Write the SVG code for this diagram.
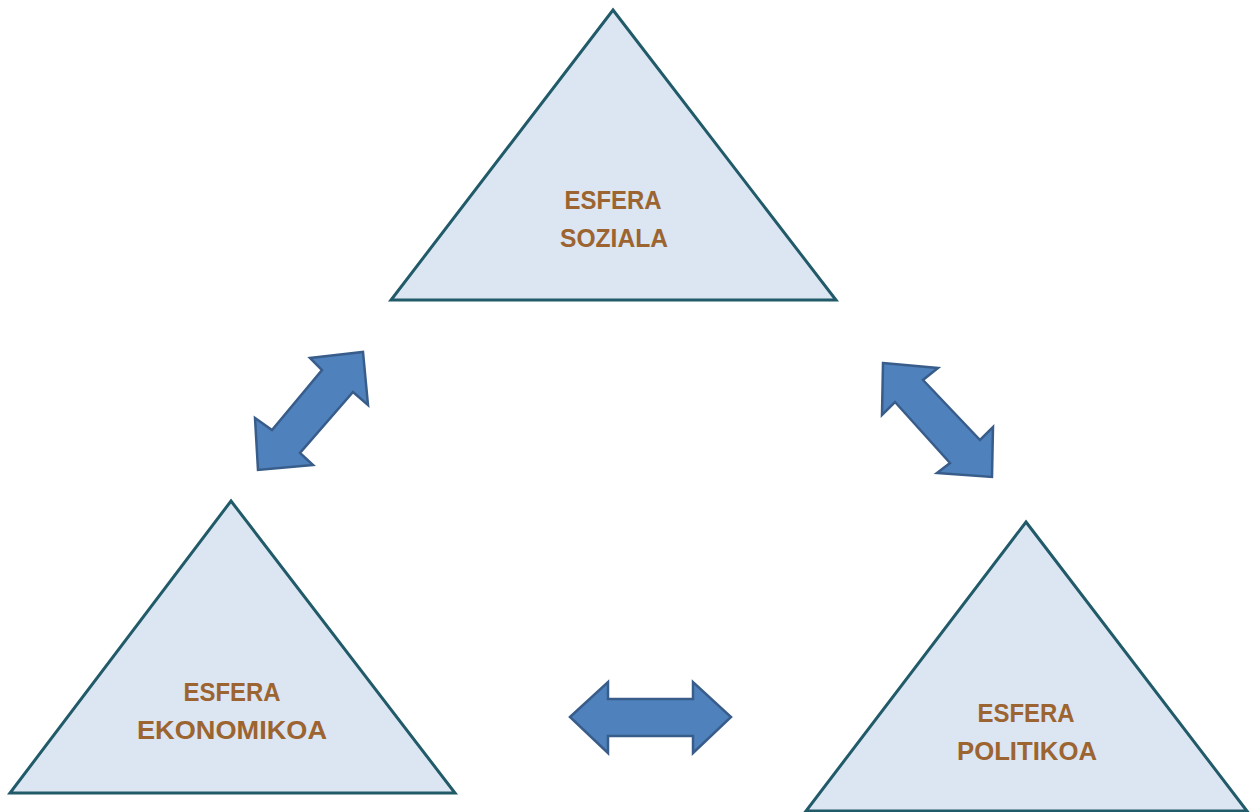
<svg xmlns="http://www.w3.org/2000/svg" width="1257" height="812" viewBox="0 0 1257 812">
<style>
.tri{fill:#DCE6F2;stroke:#215A69;stroke-width:3;stroke-linejoin:miter}
.arr{fill:#4F81BD;stroke:#385D8A;stroke-width:2.5;stroke-linejoin:miter}
.lbl{font-family:"Liberation Sans",Arial,sans-serif;font-weight:bold;font-size:26px;fill:#9C6430;text-anchor:middle}
</style>
<rect width="1257" height="812" fill="#FFFFFF"/>
<g id="soziala">
<polygon class="tri" points="613,10 836,300 391,300"/>
<text class="lbl" x="613" y="209" textLength="97" lengthAdjust="spacingAndGlyphs">ESFERA</text>
<text class="lbl" x="614" y="247" textLength="108" lengthAdjust="spacingAndGlyphs">SOZIALA</text>
</g>
<g id="ekonomikoa">
<polygon class="tri" points="231,501 455,793 10,793"/>
<text class="lbl" x="232" y="701" textLength="97" lengthAdjust="spacingAndGlyphs">ESFERA</text>
<text class="lbl" x="232" y="739" textLength="190" lengthAdjust="spacingAndGlyphs">EKONOMIKOA</text>
</g>
<g id="politikoa">
<polygon class="tri" points="1026,522 1247,811 806,811"/>
<text class="lbl" x="1026" y="722" textLength="97" lengthAdjust="spacingAndGlyphs">ESFERA</text>
<text class="lbl" x="1027" y="760" textLength="140" lengthAdjust="spacingAndGlyphs">POLITIKOA</text>
</g>
<g id="connectors">
<polygon class="arr" points="363,352 368,405 353,392 300,453 313,465 258,470 255,418 272,430 322,370 310,358"/>
<polygon class="arr" points="883,363 938,368 923,380 980,440 993,427 992,477 937,473 950,463 895,402 882,415"/>
<polygon class="arr" points="570,717 608,682 608,699 693,699 693,682 731,717 693,753 693,736 608,736 608,753"/>
</g>
</svg>
